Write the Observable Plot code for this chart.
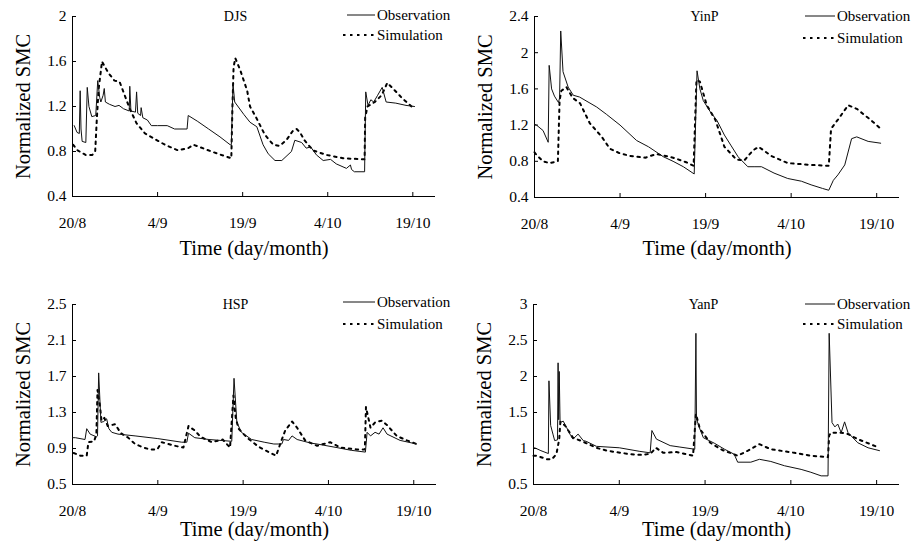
<!DOCTYPE html>
<html><head><meta charset="utf-8">
<script src="https://cdn.jsdelivr.net/npm/d3@7"></script>
<script src="https://cdn.jsdelivr.net/npm/@observablehq/plot@0.6"></script>
<style>
body{margin:0;background:#fff;}
#root{position:relative;width:912px;height:547px;overflow:hidden;font-family:"Liberation Serif","Times New Roman",serif;}
.panel{position:absolute;width:456px;height:273px;}
.panel svg{position:absolute;left:0;top:0;}
</style></head><body><div id="root"></div>
<script>
// x: days since 20 August
const tickDays = [0, 15, 30, 45, 60];
const tickLabels = ["20/8", "4/9", "19/9", "4/10", "19/10"];
const seriesNames = ["Observation", "Simulation"];
const sites = ["DJS", "YinP", "HSP", "YanP"];
const yTicksDJS = [0.4, 0.8, 1.2, 1.6, 2];
const yTicksYinP = [0.4, 0.8, 1.2, 1.6, 2, 2.4];
const yTicksHSP = [0.5, 0.9, 1.3, 1.7, 2.1, 2.5];
const yTicksYanP = [0.5, 1, 1.5, 2, 2.5, 3];

const djsObs = [[0.3,1.03],[0.8,0.97],[1.2,0.96],[1.35,1.34],[1.5,1.0],[1.7,0.89],[2.35,0.88],[2.6,1.37],[2.9,1.2],[3.4,1.11],[4.1,1.12],[4.45,1.43],[4.8,1.28],[5.0,1.24],[5.4,1.3],[5.6,1.36],[5.8,1.24],[6.5,1.22],[7.5,1.2],[8.2,1.21],[9,1.18],[10.0,1.16],[10.1,1.38],[10.3,1.16],[11.1,1.15],[11.3,1.33],[11.5,1.14],[12.0,1.12],[12.1,1.19],[12.4,1.1],[13.2,1.08],[13.9,1.03],[15,1.03],[16.7,1.03],[18,1.0],[20.2,1.0],[20.4,1.12],[22,1.07],[24,1.0],[26,0.93],[27.8,0.86],[28.0,0.86],[28.3,1.4],[28.6,1.24],[30.2,1.13],[31.3,1.06],[32.5,1.02],[33.6,0.86],[34.5,0.78],[35.7,0.72],[36.9,0.72],[38.6,0.8],[39.2,0.9],[40.4,0.88],[41.2,0.83],[42,0.84],[43,0.77],[44.2,0.72],[45.5,0.73],[46.5,0.69],[48.3,0.65],[49.0,0.68],[49.2,0.64],[49.7,0.62],[51.5,0.62],[51.7,1.33],[52.1,1.21],[52.6,1.26],[53.1,1.24],[53.8,1.3],[54.6,1.37],[55.3,1.24],[57,1.23],[58.8,1.21],[60.3,1.2]];
const djsSim = [[0.1,0.86],[0.9,0.81],[2.3,0.77],[3.5,0.77],[4.0,0.8],[4.3,1.1],[4.6,1.35],[5.2,1.6],[6.3,1.5],[7.4,1.43],[8.3,1.42],[8.9,1.34],[10.1,1.18],[11.3,1.05],[12.8,0.96],[14.2,0.92],[16.3,0.86],[18.6,0.81],[20.4,0.83],[21.3,0.86],[22.4,0.84],[24.5,0.8],[26.2,0.77],[28,0.74],[28.2,1.2],[28.4,1.55],[28.7,1.63],[29.6,1.52],[30.8,1.34],[31.3,1.2],[32.4,1.1],[33.9,0.95],[35.4,0.86],[36.5,0.85],[37.7,0.9],[38.8,0.98],[39.5,1.0],[40.1,0.97],[40.9,0.9],[42.4,0.81],[44.7,0.77],[47.7,0.74],[51.5,0.73],[51.6,1.1],[52.0,1.2],[53.3,1.24],[54.5,1.3],[55.5,1.41],[56.5,1.36],[58.2,1.27],[60,1.19]];

const yinpObs = [[0,1.21],[0.35,1.2],[1.5,1.14],[2.4,1.01],[2.57,1.86],[3.0,1.6],[3.5,1.52],[4.2,1.45],[4.4,1.5],[4.6,2.24],[5.0,1.79],[5.9,1.62],[6.8,1.53],[7.9,1.51],[10.9,1.4],[12.6,1.32],[15,1.2],[17.9,1.03],[20,0.96],[22.6,0.85],[24.3,0.8],[26.1,0.74],[28,0.66],[28.5,1.8],[29,1.6],[29.6,1.47],[30.8,1.35],[32,1.25],[33.3,1.09],[34.5,0.97],[35.7,0.85],[37.4,0.74],[38.5,0.74],[39.8,0.74],[42,0.67],[44.4,0.61],[46.8,0.58],[48.5,0.54],[50.5,0.5],[51.6,0.48],[52.4,0.59],[53.2,0.65],[54.4,0.76],[55.6,1.05],[56.5,1.07],[58.5,1.02],[60.7,1.0]];
const yinpSim = [[0,0.9],[0.35,0.87],[1.5,0.8],[2.6,0.78],[4.1,0.8],[4.4,1.47],[4.7,1.58],[5.6,1.62],[6.7,1.5],[8,1.44],[9.7,1.22],[11.8,1.07],[13.2,0.94],[14.9,0.89],[16.7,0.86],[19.4,0.84],[21.4,0.88],[24.3,0.84],[26.6,0.79],[27.9,0.75],[28.4,1.7],[29,1.68],[30.2,1.42],[31.7,1.26],[33.3,0.96],[35.4,0.82],[36.8,0.81],[38.3,0.92],[39.3,0.96],[41.5,0.86],[44.4,0.78],[48.5,0.76],[51.6,0.75],[52,1.16],[53.2,1.26],[55,1.42],[56.5,1.38],[58.9,1.26],[60.7,1.16]];

const hspObs = [[0,1.02],[0.5,1.02],[2.2,1.0],[2.5,1.12],[3.1,1.06],[4.2,1.03],[4.4,1.04],[4.6,1.74],[5.0,1.19],[5.5,1.2],[6.0,1.23],[6.4,1.12],[6.9,1.08],[8,1.06],[11,1.04],[15,1.01],[19.2,0.97],[20.1,0.97],[20.4,1.07],[21.5,1.02],[24,1.0],[28,0.98],[28.4,1.68],[28.9,1.19],[29.7,1.08],[31.5,1.0],[33.7,0.97],[35.4,0.95],[36.8,0.95],[37.1,1.0],[38,0.99],[38.6,1.04],[39.5,1.0],[41.9,0.96],[43,0.95],[46.5,0.91],[49,0.88],[51.5,0.86],[51.8,1.08],[52.4,1.04],[53.2,1.08],[53.9,1.06],[54.6,1.13],[55.3,1.06],[57.6,0.99],[60.5,0.95]];
const hspSim = [[0.2,0.85],[1.4,0.82],[2.5,0.82],[2.8,0.97],[3.8,0.98],[4.2,1.06],[4.4,1.55],[4.8,1.39],[5.1,1.21],[5.6,1.24],[6.2,1.15],[7.5,1.17],[8.5,1.07],[9.8,1.02],[11,0.95],[12.5,0.91],[13.6,0.89],[14.9,0.89],[15.7,0.97],[18,0.93],[19.5,0.91],[20.4,1.15],[21.5,1.1],[22.5,1.03],[24.5,0.97],[26.4,1.0],[27.7,0.91],[28.3,1.49],[28.7,1.24],[29.2,1.12],[30.7,1.02],[32.5,0.93],[33,0.91],[34.5,0.86],[35.8,0.82],[36.8,1.0],[37.4,1.1],[38.6,1.2],[39.5,1.13],[40.9,0.99],[43,0.93],[45.3,0.97],[47.1,0.91],[50,0.89],[51.4,0.89],[51.6,1.36],[52.4,1.13],[53.2,1.19],[54.4,1.21],[55.3,1.16],[57,1.04],[58.8,0.99],[60.5,0.95]];

const yanpObs = [[0,1.01],[0.2,1.01],[1.3,0.97],[2.6,0.93],[2.7,1.94],[3.0,1.32],[3.4,1.2],[3.7,1.11],[4.2,1.12],[4.3,2.19],[4.4,1.4],[4.5,2.07],[4.65,1.36],[5.2,1.38],[5.8,1.29],[6.5,1.18],[6.9,1.13],[7.8,1.2],[8.7,1.11],[9.2,1.1],[11,1.03],[15,1.01],[18.6,0.96],[20.4,0.94],[20.7,1.25],[21.5,1.13],[23.9,1.04],[25.6,1.02],[28.2,0.99],[28.4,2.6],[28.5,1.41],[29.1,1.27],[29.7,1.15],[31.7,1.07],[33.4,0.99],[35.1,0.92],[35.7,0.81],[38,0.81],[39.5,0.85],[41.5,0.82],[43.9,0.76],[46.8,0.71],[48.5,0.67],[50.3,0.62],[51.5,0.62],[51.7,2.6],[52.2,1.36],[52.7,1.3],[53.2,1.34],[53.8,1.22],[54.4,1.37],[55,1.22],[56.7,1.08],[58.5,1.01],[60.5,0.97]];
const yanpSim = [[0,0.9],[0.5,0.9],[2.4,0.85],[3.2,0.85],[4,0.92],[4.5,1.13],[4.7,1.37],[5.5,1.32],[6.9,1.15],[8.5,1.1],[11,1.01],[12.8,0.97],[16.9,0.92],[19.2,0.91],[20.5,0.93],[21.4,1.01],[22.7,0.94],[25,0.95],[27.9,0.9],[28.4,1.48],[29.1,1.27],[30.9,1.08],[33,0.98],[35.7,0.9],[37.5,0.97],[39.5,1.06],[41.5,0.99],[45.6,0.94],[48.5,0.9],[51.5,0.88],[51.7,1.18],[52,1.22],[53.8,1.22],[55,1.2],[56.7,1.13],[60.5,1.01]];

// layout (not data)
const FONT = "Liberation Serif, Times New Roman, serif";
const DASH = "2.5,4.5";
const panels = [
  {site: sites[0], obs: djsObs, sim: djsSim, yTicks: yTicksDJS, left: 0, top: 0,
   m: [16, 21, 77, 72], xTitleDy: 52, titleDx: 163, leg: {x1o: 347, x1s: 343, x2: 375, tx: 377, y1: 15, y2: 35}},
  {site: sites[1], obs: yinpObs, sim: yinpSim, yTicks: yTicksYinP, left: 456, top: 0,
   m: [16, 13, 76, 78], xTitleDy: 51, titleDx: 170, leg: {x1o: 349, x1s: 347, x2: 379, tx: 381, y1: 16, y2: 38}},
  {site: sites[2], obs: hspObs, sim: hspSim, yTicks: yTicksHSP, left: 0, top: 274,
   m: [30, 20, 63, 72], xTitleDy: 45, titleDx: 163, leg: {x1o: 343, x1s: 343, x2: 375, tx: 377, y1: 28, y2: 50}},
  {site: sites[3], obs: yanpObs, sim: yanpSim, yTicks: yTicksYanP, left: 456, top: 274,
   m: [30, 13, 63, 77], xTitleDy: 45, titleDx: 170, leg: {x1o: 349, x1s: 347, x2: 379, tx: 381, y1: 30, y2: 50}}
];

const root = document.getElementById("root");
for (const p of panels) {
  const div = document.createElement("div");
  div.className = "panel";
  div.style.left = p.left + "px";
  div.style.top = p.top + "px";
  root.appendChild(div);
  const ymin = p.yTicks[0], ymax = p.yTicks[p.yTicks.length - 1];
  const chart = Plot.plot({
    width: 456, height: 273,
    marginTop: p.m[0], marginRight: p.m[1], marginBottom: p.m[2], marginLeft: p.m[3],
    style: {fontFamily: FONT, fontSize: "16px", color: "#000", background: "transparent", overflow: "visible"},
    x: {domain: [0, 64]},
    y: {domain: [ymin, ymax]},
    marks: [
      Plot.axisX(tickDays, {tickSize: -4, tickPadding: 24, tickFormat: d => tickLabels[tickDays.indexOf(d)], label: null, fontSize: 15.5}),
      Plot.axisY(p.yTicks, {tickSize: -4, tickPadding: 10, tickFormat: d => String(d), label: null, fontSize: 15.5}),
      Plot.ruleY([ymin], {stroke: "#000", strokeWidth: 1}),
      Plot.ruleX([0], {stroke: "#000", strokeWidth: 1}),
      Plot.line(p.sim, {x: d => d[0], y: d => d[1], stroke: "#000", strokeWidth: 2, strokeDasharray: DASH}),
      Plot.line(p.obs, {x: d => d[0], y: d => d[1], stroke: "#111", strokeWidth: 1}),
      Plot.text([p.site], {frameAnchor: "top-left", dx: p.titleDx, textAnchor: "middle", lineAnchor: "middle", fontSize: 14, fill: "#000"}),
      Plot.text(["Normalized SMC"], {frameAnchor: "left", rotate: -90, dx: -49, textAnchor: "middle", lineAnchor: "middle", fontSize: 20.5, fill: "#000"}),
      Plot.text(["Time (day/month)"], {frameAnchor: "bottom", dy: p.xTitleDy, textAnchor: "middle", lineAnchor: "middle", fontSize: 20.5, fill: "#000"})
    ]
  });
  div.appendChild(chart);
  // legend
  const L = p.leg;
  const svg = d3.select(div).append("svg").attr("width", 456).attr("height", 273)
    .style("pointer-events", "none").style("overflow", "hidden");
  svg.append("line").attr("x1", L.x1o).attr("x2", L.x2).attr("y1", L.y1).attr("y2", L.y1)
    .attr("stroke", "#111").attr("stroke-width", 1);
  svg.append("line").attr("x1", L.x1s).attr("x2", L.x2).attr("y1", L.y2).attr("y2", L.y2)
    .attr("stroke", "#000").attr("stroke-width", 2).attr("stroke-dasharray", DASH);
  svg.selectAll("text.leg").data(seriesNames).join("text").attr("class", "leg")
    .attr("x", L.tx).attr("y", (d, i) => i === 0 ? L.y1 : L.y2).attr("dy", "0.33em")
    .attr("font-family", FONT).attr("font-size", 15).attr("fill", "#000").text(d => d);
}
</script>
</body></html>
